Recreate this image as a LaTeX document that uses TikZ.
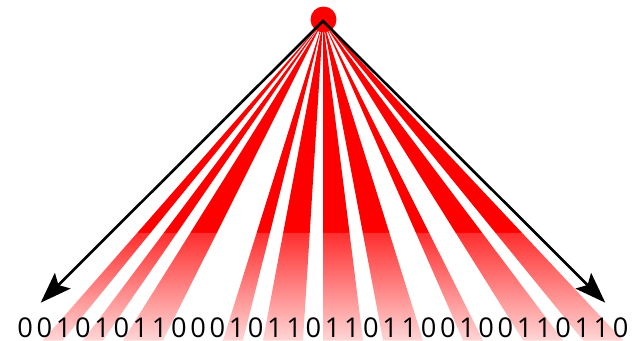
\documentclass[tikz,border=0pt]{standalone}
\usepackage{fontspec}
\setmainfont{Open Sans}
\usetikzlibrary{calc, arrows.meta}

\begin{document}
\begin{tikzpicture}[
    x=0.02cm, y=-0.02cm,
    % Estilos
    beam solid/.style={fill=red}, % Parte superior de cada haz
    beam fade/.style={top color=red!82, bottom color=red!16}, % Desvanecimiento inferior
    emitter/.style={circle, fill=red, minimum size=0.52cm, inner sep=0pt},
    edge arrow/.style={arrows={Stealth[length=0.62cm, width=0.44cm, inset=0.12cm]-Stealth[length=0.62cm, width=0.44cm, inset=0.12cm]}, line width=1.5pt, black, line join=miter},
    bit label/.style={font=\fontsize{15.5}{17}\selectfont, inner sep=0pt}
]
    \useasboundingbox (0,0) rectangle (643,341);

    % =========================================================================
    % 1. Vertice y extremos del abanico
    % =========================================================================
    \coordinate (apex) at (323,21);
    \coordinate (tipL) at (40.7,302.7);
    \coordinate (tipR) at (605.3,302.7);

    % Bordes del abanico a varias alturas
    \coordinate (midL) at ($(apex)!0.7518!(tipL)$); % cambio de tono
    \coordinate (midR) at ($(apex)!0.7518!(tipR)$);
    \coordinate (botL) at ($(apex)!1.1348!(tipL)$); % borde inferior
    \coordinate (botR) at ($(apex)!1.1348!(tipR)$);
    \coordinate (digL) at ($(apex)!1.0887!(tipL)$); % linea de digitos
    \coordinate (digR) at ($(apex)!1.0887!(tipR)$);

    % =========================================================================
    % 2. Haces rojos (inicio/ancho de cada tramo de unos)
    % =========================================================================
    \foreach \s/\n in {2/1, 4/1, 6/2, 11/1, 13/2, 16/2, 19/2, 23/1, 26/2, 29/2} {
        \fill[beam solid] (apex) -- ($(midL)!\s/32!(midR)$) -- ($(midL)!\s/32+\n/32!(midR)$) -- cycle;
        \shade[beam fade] ($(midL)!\s/32!(midR)$) -- ($(botL)!\s/32!(botR)$)
            -- ($(botL)!\s/32+\n/32!(botR)$) -- ($(midL)!\s/32+\n/32!(midR)$) -- cycle;
    }

    % =========================================================================
    % 3. Fuente y flechas
    % =========================================================================
    \node[emitter] (source) at (323.5,19.5) {};
    \draw[edge arrow] (tipL) -- (apex) -- (tipR);

    % =========================================================================
    % 4. Secuencia de bits
    % =========================================================================
    \foreach \val [count=\i from 0] in {0,0,1,0,1,0,1,1,0,0,0,1,0,1,1,0,1,1,0,1,1,0,0,1,0,0,1,1,0,1,1,0} {
        \node[bit label] (bit\i) at ($(digL)!\i/32+1/64!(digR)$) {\val};
    }

\end{tikzpicture}
\end{document}
